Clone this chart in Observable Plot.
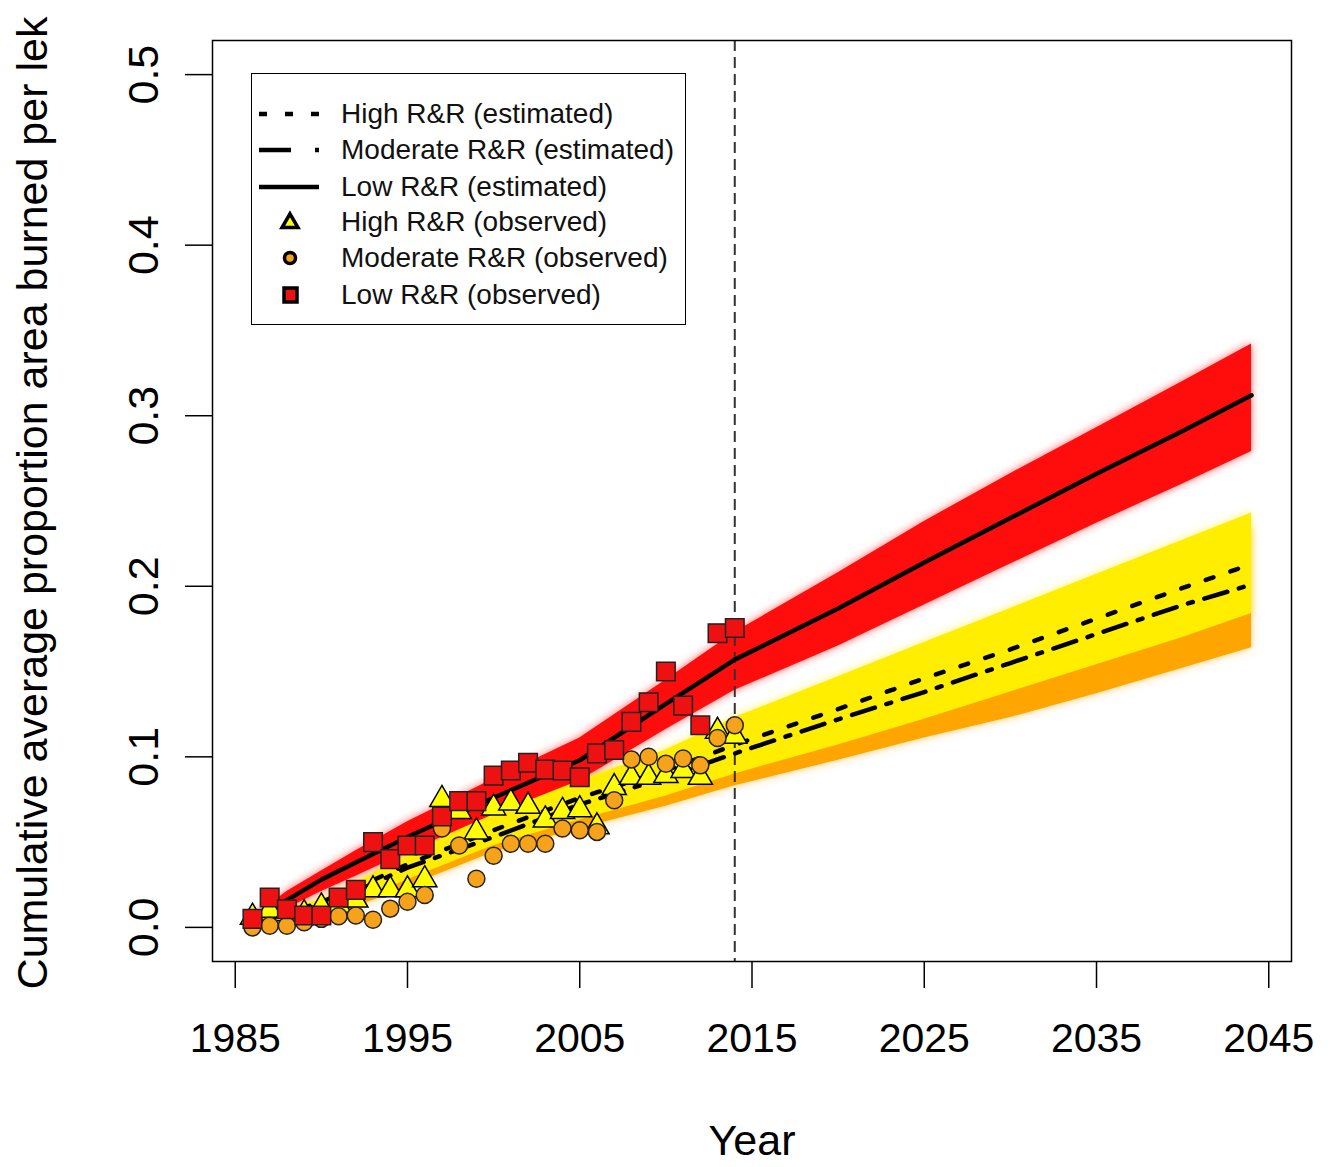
<!DOCTYPE html>
<html><head><meta charset="utf-8">
<script src="https://cdn.jsdelivr.net/npm/d3@7"></script>
<script src="https://cdn.jsdelivr.net/npm/@observablehq/plot@0.6"></script>
<style>
body{margin:0;background:#fff;}
#wrap{position:relative;width:1335px;height:1167px;font-family:"Liberation Sans",Arial,sans-serif;}
#legend{position:absolute;left:251px;top:73px;width:433px;height:250px;border:1.5px solid #000;background:#fff;}
#legend svg{position:absolute;left:0;top:0;}
.lt{position:absolute;left:89px;font-size:28px;line-height:1;transform:translateY(-50%);white-space:nowrap;color:#111;}
</style></head><body><div id="wrap"><div id="chart"></div><div id="legend"></div></div>
<script>
// ---- observed data (1986-2014) ----
const obsYears = [1986,1987,1988,1989,1990,1991,1992,1993,1994,1995,1996,1997,1998,1999,2000,2001,2002,2003,2004,2005,2006,2007,2008,2009,2010,2011,2012,2013,2014];
const obsHigh = [0.006,0.010,0.008,0.008,0.012,0.013,0.016,0.022,0.022,0.022,0.028,0.075,0.068,0.056,0.070,0.073,0.071,0.063,0.068,0.069,0.059,0.082,0.088,0.088,0.089,0.092,0.088,0.115,0.112];
const obsModerate = [0.000,0.001,0.001,0.003,0.005,0.0065,0.007,0.0045,0.011,0.015,0.019,0.058,0.048,0.0285,0.042,0.049,0.049,0.049,0.058,0.057,0.056,0.0745,0.0985,0.100,0.096,0.099,0.095,0.111,0.1185];
const obsLow = [0.005,0.0175,0.0106,0.007,0.007,0.0175,0.022,0.050,0.040,0.048,0.048,0.065,0.074,0.074,0.089,0.092,0.0965,0.0925,0.092,0.088,0.102,0.104,0.1205,0.132,0.150,0.130,0.1185,0.1725,0.1755];

// ---- estimated lines and simulation envelopes ----
const estYears = [1986,1988,1990,1992,1995,2000,2005,2010,2014,2020,2025,2030,2035,2040,2044];
const estHigh = [0.002,0.008,0.015,0.023,0.037,0.057,0.076,0.092,0.107,0.128,0.146,0.163,0.181,0.199,0.213];
const estModerate = [0.001,0.007,0.013,0.021,0.035,0.053,0.072,0.088,0.102,0.122,0.138,0.155,0.172,0.189,0.201];
const estLow = [0.004,0.016,0.028,0.038,0.053,0.076,0.098,0.131,0.157,0.187,0.214,0.240,0.266,0.291,0.312];

const simLowLo = [0.002,0.011,0.021,0.030,0.044,0.066,0.086,0.116,0.139,0.165,0.189,0.213,0.237,0.260,0.279];
const simLowHi = [0.006,0.021,0.033,0.045,0.062,0.087,0.111,0.145,0.173,0.208,0.238,0.266,0.293,0.320,0.342];
const simHighLo = [0.000,0.004,0.008,0.015,0.028,0.048,0.063,0.077,0.090,0.107,0.122,0.138,0.154,0.170,0.184];
const simHighHi = [0.004,0.011,0.016,0.026,0.042,0.067,0.086,0.104,0.123,0.147,0.167,0.187,0.207,0.227,0.243];
const simModLo = [0.000,0.003,0.006,0.012,0.024,0.044,0.058,0.071,0.083,0.098,0.111,0.123,0.137,0.152,0.164];
const simModHi = [0.003,0.009,0.014,0.024,0.041,0.064,0.084,0.101,0.117,0.140,0.159,0.177,0.195,0.214,0.234];

const xTicks = [1985,1995,2005,2015,2025,2035,2045];
const yTicks = [0.0,0.1,0.2,0.3,0.4,0.5];
const refYear = [2014];

const seriesNames = ["High R&R (estimated)","Moderate R&R (estimated)","Low R&R (estimated)","High R&R (observed)","Moderate R&R (observed)","Low R&R (observed)"];
const colRed = "#ff0d0d", colYellow = "#ffee00", colOrange = "#ffa500";
const ptRed = "#ee1111", ptYellow = "#ffff00", ptOrange = "#f7a21b";

const est = estYears.map((year,i)=>({year, high:estHigh[i], mod:estModerate[i], low:estLow[i],
  lLo:simLowLo[i], lHi:simLowHi[i], hLo:simHighLo[i], hHi:simHighHi[i], mLo:simModLo[i], mHi:simModHi[i]}));
const obs = obsYears.map((year,i)=>({year, high:obsHigh[i], mod:obsModerate[i], low:obsLow[i]}));

const svg = Plot.plot({
  width: 1335, height: 1167,
  marginLeft: 212, marginRight: 44, marginTop: 40, marginBottom: 206,
  style: {fontFamily: '"Liberation Sans", Arial, sans-serif', background: "white", color: "black"},
  x: {domain: [1983.68, 2046.32]},
  y: {domain: [-0.02, 0.52]},
  marks: [
    // soft halos of the simulation envelopes
    Plot.areaY(est, {x:"year", y1:"mLo", y2:"mHi", fill: colOrange, fillOpacity: 0.6}),
    Plot.areaY(est, {x:"year", y1:"hLo", y2:"hHi", fill: colYellow, fillOpacity: 0.6}),
    Plot.areaY(est, {x:"year", y1:"lLo", y2:"lHi", fill: colRed, fillOpacity: 0.6}),
    // cores
    Plot.areaY(est, {x:"year", y1:"mLo", y2:"mHi", fill: colOrange}),
    Plot.areaY(est, {x:"year", y1:"hLo", y2:"hHi", fill: colYellow}),
    Plot.areaY(est, {x:"year", y1:"lLo", y2:"lHi", fill: colRed}),
    Plot.ruleX(refYear, {stroke: "#333", strokeWidth: 2, strokeDasharray: "11,6"}),
    Plot.line(est, {x:"year", y:"high", stroke:"black", strokeWidth:4.5, strokeDasharray:"8,18"}),
    Plot.line(est, {x:"year", y:"mod", stroke:"black", strokeWidth:4.5, strokeDasharray:"24,12,5,12"}),
    Plot.line(est, {x:"year", y:"low", stroke:"black", strokeWidth:4.5}),
    Plot.dot(obs, {x:"year", y:"high", symbol:"triangle", r:9, fill: ptYellow, stroke:"black", strokeWidth:1.5}),
    Plot.dot(obs, {x:"year", y:"mod", symbol:"circle", r:8.5, fill: ptOrange, stroke:"#222", strokeWidth:1.5}),
    Plot.dot(obs, {x:"year", y:"low", symbol:"square", r:10.5, fill: ptRed, stroke:"#222", strokeWidth:1.5}),
    Plot.frame({stroke:"black", strokeWidth:1.5}),
    Plot.axisX(xTicks, {tickSize: 27, tickPadding: 34, fontSize: 41, strokeWidth: 1.5, label: null, tickFormat: d => String(d)}),
    Plot.axisY(yTicks, {tickSize: 27, strokeWidth: 1.5, label: null, tickFormat: () => ""}),
    Plot.text(yTicks, {y: d => d, text: d => d.toFixed(1), frameAnchor: "left", dx: -68, rotate: -90, fontSize: 43, textAnchor: "middle", lineAnchor: "middle"}),
    Plot.text(["Year"], {frameAnchor: "bottom", dy: 180, fontSize: 43, textAnchor: "middle", lineAnchor: "middle"}),
    Plot.text(["Cumulative average proportion area burned per lek"], {frameAnchor: "left", dx: -179, dy: 2, rotate: -90, fontSize: 43, textAnchor: "middle", lineAnchor: "middle"})
  ]
});

// blur halos
const defs = document.createElementNS("http://www.w3.org/2000/svg","defs");
defs.innerHTML = '<filter id="fuzz" x="-10%" y="-10%" width="120%" height="120%"><feGaussianBlur stdDeviation="4"/></filter>';
svg.insertBefore(defs, svg.firstChild);
const areas = svg.querySelectorAll('g[aria-label="area"]');
for (let i = 0; i < 3 && i < areas.length; i++) areas[i].setAttribute("filter","url(#fuzz)");
document.getElementById("chart").appendChild(svg);

// ---- legend ----
const lg = document.getElementById("legend");
const rowsY = [40, 76, 113, 148, 184, 221];
const ls = d3.select(lg).append("svg").attr("width", 433).attr("height", 250);
const dashes = ["8,18", "32,24,5,24", null];
for (let i = 0; i < 3; i++) {
  const l = ls.append("line").attr("x1", 7).attr("x2", 67).attr("y1", rowsY[i]).attr("y2", rowsY[i])
    .attr("stroke", "black").attr("stroke-width", 4.5);
  if (dashes[i]) l.attr("stroke-dasharray", dashes[i]);
}
ls.append("path").attr("d", d3.symbol(d3.symbolTriangle, 110)()).attr("transform", `translate(38,${rowsY[3]+1})`)
  .attr("fill", ptYellow).attr("stroke", "black").attr("stroke-width", 3.5);
ls.append("circle").attr("cx", 38).attr("cy", rowsY[4]).attr("r", 5.5).attr("fill", ptOrange).attr("stroke", "black").attr("stroke-width", 3.5);
ls.append("rect").attr("x", 32).attr("y", rowsY[5]-7).attr("width", 13).attr("height", 14).attr("fill", ptRed).attr("stroke", "black").attr("stroke-width", 3.5);
seriesNames.forEach((t, i) => {
  const s = document.createElement("div");
  s.className = "lt"; s.textContent = t; s.style.top = rowsY[i] + "px";
  lg.appendChild(s);
});
</script>
</body></html>
